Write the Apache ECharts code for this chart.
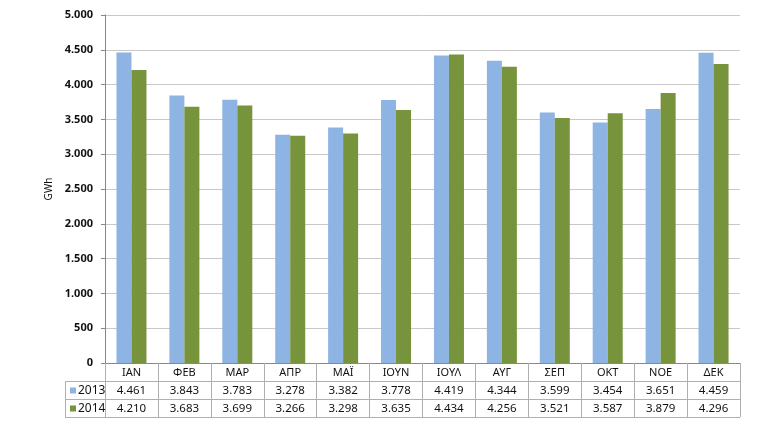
<!DOCTYPE html>
<html><head><meta charset="utf-8">
<script src="https://cdn.jsdelivr.net/npm/echarts@6/dist/echarts.min.js"></script>
<style>html,body{margin:0;padding:0;background:#fff}#c{width:770px;height:428px}</style>
</head><body><div id="c"></div>
<script>
const months = ['ΙΑΝ','ΦΕΒ','ΜΑΡ','ΑΠΡ','ΜΑΪ','ΙΟΥΝ','ΙΟΥΛ','ΑΥΓ','ΣΕΠ','ΟΚΤ','ΝΟΕ','ΔΕΚ'];
const series2013 = [4461,3843,3783,3278,3382,3778,4419,4344,3599,3454,3651,4459];
const series2014 = [4210,3683,3699,3266,3298,3635,4434,4256,3521,3587,3879,4296];
const seriesNames = ['2013','2014'];
const colors = ['#8DB4E2','#77933C'];

const fmt = v => String(v).replace(/\B(?=(\d{3})+(?!\d))/g, '.');
const G = {left:105, right:30, top:15, bottom:65};
const W = 770, H = 428;
const plotRight = W - G.right, plotBottom = H - G.bottom;
const rowH = 18, tableLeft = 65;
const lineStyle = {stroke:'#b0b0b0', lineWidth:1};
const graphics = [];
for (let r = 1; r <= 3; r++) {
  graphics.push({type:'line', shape:{x1:tableLeft, y1:plotBottom + r*rowH + 0.5, x2:plotRight, y2:plotBottom + r*rowH + 0.5}, style:lineStyle, silent:true});
}
graphics.push({type:'line', shape:{x1:tableLeft+0.5, y1:plotBottom+rowH, x2:tableLeft+0.5, y2:plotBottom+3*rowH}, style:lineStyle, silent:true});
seriesNames.forEach((n,i) => {
  const cy = plotBottom + (i+1)*rowH + rowH/2 + 0.5;
  graphics.push({type:'rect', shape:{x:tableLeft+5, y:cy-3, width:6, height:6}, style:{fill:colors[i]}, silent:true});
  graphics.push({type:'text', x:tableLeft+13, y:cy, style:{text:n, fill:'#111', font:'12px "Noto Sans"', textVerticalAlign:'middle'}, silent:true});
});

const chart = echarts.init(document.getElementById('c'), null, {renderer:'canvas'});
chart.setOption({
  animation:false,
  color: colors,
  grid:{left:G.left, right:G.right, top:G.top, bottom:G.bottom, containLabel:false},
  xAxis:{
    type:'category', data:months,
    axisLine:{lineStyle:{color:'#888'}},
    axisTick:{show:true, interval:0, length:3*rowH, lineStyle:{color:'#b0b0b0'}},
    axisLabel:{
      interval:0, margin:1,
      formatter:(v, idx) => `{c|${v}}\n{v|${fmt(series2013[idx])}}\n{v|${fmt(series2014[idx])}}`,
      rich:{
        c:{fontFamily:'Noto Sans', fontSize:11, color:'#111', lineHeight:rowH, height:rowH},
        v:{fontFamily:'Noto Sans', fontSize:11.5, color:'#111', lineHeight:rowH, height:rowH}
      }
    }
  },
  yAxis:{
    type:'value', min:0, max:5000, interval:500,
    name:'GWh', nameLocation:'middle', nameGap:46,
    nameTextStyle:{fontFamily:'Noto Sans', fontSize:10, color:'#111'},
    axisLine:{show:true, lineStyle:{color:'#888'}},
    axisTick:{show:true, length:4, lineStyle:{color:'#888'}},
    axisLabel:{formatter:fmt, margin:12, fontFamily:'Noto Sans', fontSize:11, fontWeight:'bold', color:'#111'},
    splitLine:{lineStyle:{color:'#c8c8c8'}}
  },
  series:[
    {name:seriesNames[0], type:'bar', data:series2013, barWidth:15, barGap:'0%'},
    {name:seriesNames[1], type:'bar', data:series2014, barWidth:15, barGap:'0%'}
  ],
  graphic: graphics
});
</script></body></html>
